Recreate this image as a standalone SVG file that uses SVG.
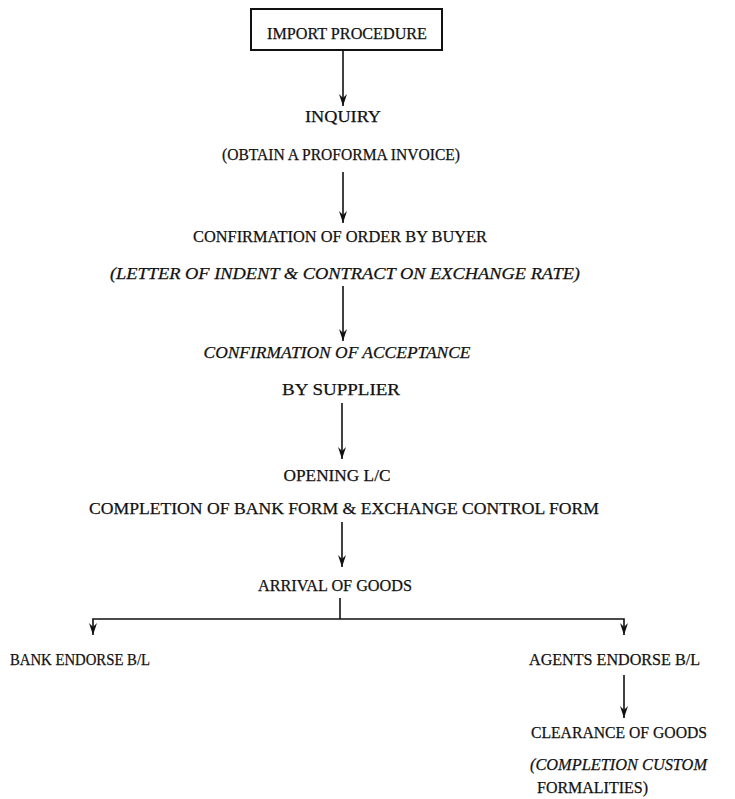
<svg xmlns="http://www.w3.org/2000/svg" width="735" height="799" viewBox="0 0 735 799">
<style>
text{font-family:"Liberation Serif","DejaVu Serif",serif;font-size:17px;fill:#111;stroke:#111;stroke-width:0.25;text-anchor:middle}
.it{font-style:italic}
.l{text-anchor:start}
.c{stroke:#111;stroke-width:1.6;fill:none}
</style>
<defs>
<marker id="ah" viewBox="0 0 12 8" refX="12" refY="4" markerWidth="12" markerHeight="8" markerUnits="userSpaceOnUse" orient="auto-start-reverse">
<path d="M0,0 L12,4 L0,8 L4,4 Z" fill="#111"/>
</marker>
</defs>
<rect width="735" height="799" fill="#fff"/>
<g id="connectors">
<line class="c" x1="343" y1="50" x2="343" y2="106" marker-end="url(#ah)"/>
<line class="c" x1="343" y1="172" x2="343" y2="223" marker-end="url(#ah)"/>
<line class="c" x1="343" y1="286" x2="343" y2="341" marker-end="url(#ah)"/>
<line class="c" x1="342" y1="403" x2="342" y2="459" marker-end="url(#ah)"/>
<line class="c" x1="342" y1="522" x2="342" y2="567" marker-end="url(#ah)"/>
<line class="c" x1="340" y1="598" x2="340" y2="619"/>
<polyline class="c" points="93,635 93,619 624,619 624,635" marker-start="url(#ah)" marker-end="url(#ah)"/>
<line class="c" x1="624" y1="675" x2="624" y2="718" marker-end="url(#ah)"/>
</g>
<g id="n-import">
<rect x="251" y="9" width="191" height="41" fill="none" stroke="#111" stroke-width="2"/>
<text x="347" y="39" textLength="160" lengthAdjust="spacingAndGlyphs">IMPORT PROCEDURE</text>
</g>
<g id="n-inquiry">
<text x="343" y="122" textLength="76" lengthAdjust="spacingAndGlyphs">INQUIRY</text>
<text x="341" y="160" textLength="238" lengthAdjust="spacingAndGlyphs">(OBTAIN A PROFORMA INVOICE)</text>
</g>
<g id="n-confirm-order">
<text x="340" y="242" textLength="294" lengthAdjust="spacingAndGlyphs">CONFIRMATION OF ORDER BY BUYER</text>
<text class="it" x="345" y="279" textLength="470" lengthAdjust="spacingAndGlyphs">(LETTER OF INDENT &amp; CONTRACT ON EXCHANGE RATE)</text>
</g>
<g id="n-confirm-accept">
<text class="it" x="337" y="358" textLength="267" lengthAdjust="spacingAndGlyphs">CONFIRMATION OF ACCEPTANCE</text>
<text x="341" y="395" textLength="118" lengthAdjust="spacingAndGlyphs">BY SUPPLIER</text>
</g>
<g id="n-opening">
<text x="337" y="481" textLength="107" lengthAdjust="spacingAndGlyphs">OPENING L/C</text>
<text x="344" y="514" textLength="510" lengthAdjust="spacingAndGlyphs">COMPLETION OF BANK FORM &amp; EXCHANGE CONTROL FORM</text>
</g>
<g id="n-arrival">
<text x="335" y="591" textLength="154" lengthAdjust="spacingAndGlyphs">ARRIVAL OF GOODS</text>
</g>
<g id="n-bank">
<text class="l" x="10" y="665" textLength="140" lengthAdjust="spacingAndGlyphs">BANK ENDORSE B/L</text>
</g>
<g id="n-agents">
<text class="l" x="529" y="665" textLength="171" lengthAdjust="spacingAndGlyphs">AGENTS ENDORSE B/L</text>
</g>
<g id="n-clearance">
<text class="l" x="531" y="738" textLength="176" lengthAdjust="spacingAndGlyphs">CLEARANCE OF GOODS</text>
<text class="l it" x="530" y="770" textLength="177" lengthAdjust="spacingAndGlyphs">(COMPLETION CUSTOM</text>
<text class="l" x="537" y="793" textLength="111" lengthAdjust="spacingAndGlyphs">FORMALITIES)</text>
</g>
</svg>
